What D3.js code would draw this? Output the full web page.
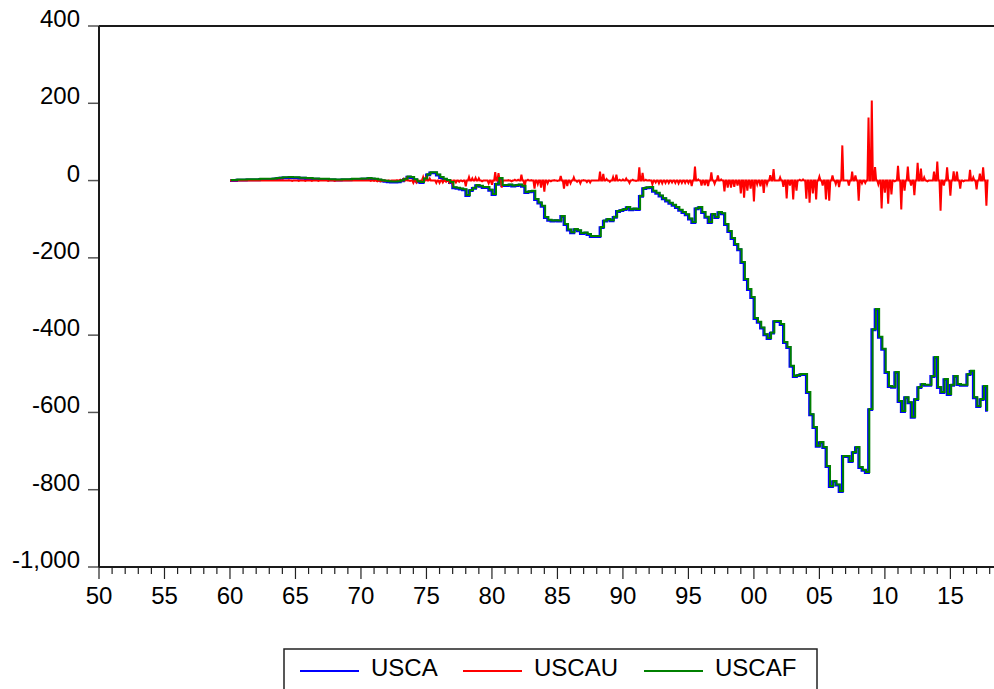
<!DOCTYPE html>
<html><head><meta charset="utf-8">
<script src="https://cdn.jsdelivr.net/npm/d3@7"></script>
<style>body{margin:0;background:#fff;} svg{display:block;} text{font-family:"Liberation Sans",Arial,sans-serif;}</style>
</head><body>
<svg id="chart" width="994" height="689"></svg>
<script>
const startYear = 1960;
const yTicks = [-1000, -800, -600, -400, -200, 0, 200, 400];
const xMajorTicks = [1950, 1955, 1960, 1965, 1970, 1975, 1980, 1985, 1990, 1995, 2000, 2005, 2010, 2015];
const seriesNames = ["USCA", "USCAU", "USCAF"];
const seriesColors = ["#0000ff", "#ff0000", "#008000"];

// quarterly values, 1960Q1 - 2017Q4
const usca = [
0,0,1,1, 1,2,2,2, 2,3,3,3, 3,4,5,6, 7,7,8,7, 7,6,6,5, 5,4,4,3, 3,3,2,2, 1,1,2,2, 2,3,3,3,
4,4,5,4, 3,1,-1,-2, -3,-4,-4,-3, -1,3,9,8, 2,-3,-5,4, 15,20,20,14, 8,3,0,-5, -19,-20,-22,-24, -39,-26,-20,-13, -15,-18,-18,-25,
-36,-10,5,-13, -13,-12,-14,-13, -12,-15,-31,-29, -28,-49,-58,-67, -96,-103,-105,-104, -105,-93,-114,-128, -135,-127,-130,-137, -136,-140,-145,-145, -145,-122,-105,-101, -104,-95,-80,-78,
-75,-70,-76,-74, -75,-41,-21,-19, -18,-28,-33,-40, -47,-53,-59,-64, -70,-77,-83,-89, -100,-109,-73,-70, -83,-95,-109,-88, -96,-83,-86,-114, -132,-150,-166,-179, -212,-256,-282,-303,
-357,-367,-382,-399, -409,-395,-365,-365, -373,-419,-432,-481, -507,-505,-502,-502, -549,-606,-639,-688, -678,-691,-740,-792, -779,-788,-805,-714, -714,-727,-704,-691, -743,-750,-756,-593, -386,-334,-406,-437,
-497,-533,-535,-497, -572,-598,-562,-575, -613,-567,-536,-528, -530,-530,-507,-458, -536,-549,-515,-554, -530,-507,-528,-530, -530,-502,-494,-562, -585,-567,-533,-598
];
// quarterly spikes of the unexpected component (zero between spikes)
const uscau = [
0,0,1,0, 0,1,0,0, 0,1,0,0, 0,1,1,1, 1,0,1,-1, 0,-1,0,-1, 0,-1,0,-1, 0,0,-1,0, -1,0,1,0, 0,1,0,0,
1,0,1,-1, -1,-2,-2,-1, -1,-1,0,1, 2,4,6,-1, -6,-5,-2,9, 11,5,0,-6, -6,-5,-3,-5, -9,-5,-3,-2, -15,9,6,7, 6,-2,0,-7,
-11,22,19,-18, 0,1,-2,2, 2,15,-16,2, 1,-21,-9,-18, -29,-7,-2,1, -1,12,-21,-14, -7,8,-3,-7, 1,-4,-5,0, 0,23,17,4, -3,9,15,2,
3,5,-6,2, -1,34,20,2, 1,-10,-5,-7, -7,-6,-6,-5, -6,-7,-6,-6, -6,-14,36,3, -13,-12,-14,21, -8,13,3,-28, -18,-18,-16,-13, -33,-44,-26,-21,
-54,-10,-15,-32, -10,14,30,0, 8,-16,-46,-13, -49,-26,2,3, -47,-57,-33,-49, 10,-13,-49,-52, 13,-9,-17,91, 0,-13,23,13, -52,-7,-6,163, 207,35,-10,-72,
-31,-60,-36,-2, 38,-75,-26,36, -13,-38,46,31, 8,-2,0,23, 49,-78,-13,34, -39,24,23,-21, -2,0,28,8, -23,18,34,-65
];
const uscaf = usca.slice();

const svg = d3.select("#chart");
const mLeft = 99, mRight = 994, mTop = 26, mBottom = 567;
const x = d3.scaleLinear().domain([1950, 2018.33]).range([mLeft, mRight]);
const y = d3.scaleLinear().domain([-1000, 400]).range([mBottom, mTop]);

const FONT = 24;

// y axis ticks and labels
const yAxis = svg.append("g");
yAxis.selectAll("line").data(yTicks).join("line")
  .attr("x1", mLeft - 11).attr("x2", mLeft).attr("y1", d => y(d)).attr("y2", d => y(d))
  .attr("stroke", "#555").attr("stroke-width", 1.5);
yAxis.selectAll("text").data(yTicks).join("text")
  .attr("x", 80).attr("y", d => y(d) + 1).attr("text-anchor", "end")
  .attr("font-size", FONT).attr("fill", "#000")
  .text(d => d3.format(",")(d).replace("\u2212", "-"));

// x axis ticks
const years = d3.range(1950, 2019);
svg.append("g").selectAll("line").data(years).join("line")
  .attr("x1", d => x(d)).attr("x2", d => x(d))
  .attr("y1", mBottom).attr("y2", d => mBottom + (d % 5 === 0 ? 12 : 7))
  .attr("stroke", "#222").attr("stroke-width", 1.2);
svg.append("g").selectAll("text").data(xMajorTicks).join("text")
  .attr("x", d => x(d)).attr("y", 604).attr("text-anchor", "middle")
  .attr("font-size", FONT).attr("fill", "#000")
  .text(d => String(d % 100).padStart(2, "0"));

// frame lines
svg.append("line").attr("x1", mLeft).attr("x2", mRight).attr("y1", mTop).attr("y2", mTop).attr("stroke", "#1a1a1a").attr("stroke-width", 2);
svg.append("line").attr("x1", mLeft).attr("x2", mLeft).attr("y1", mTop).attr("y2", mBottom).attr("stroke", "#1a1a1a").attr("stroke-width", 2);
svg.append("line").attr("x1", mLeft).attr("x2", mRight).attr("y1", mBottom).attr("y2", mBottom).attr("stroke", "#1a1a1a").attr("stroke-width", 2);

// series
const tq = i => startYear + i / 4;
const stepLine = d3.line().curve(d3.curveStepAfter).x((d, i) => x(tq(i))).y(d => y(d));
// spike series: each quarterly value shown as a one-month spike, zero otherwise
const spikePts = [];
uscau.forEach((v, i) => {
  spikePts.push({t: tq(i), v: v});
  spikePts.push({t: tq(i) + 1 / 12, v: 0});
  spikePts.push({t: tq(i) + 2 / 12, v: 0});
});
const spikeLine = d3.line().x(d => x(d.t)).y(d => y(d.v));

svg.append("path").datum(usca).attr("d", stepLine)
  .attr("fill", "none").attr("stroke", seriesColors[0]).attr("stroke-width", 2.8);
svg.append("path").datum(spikePts).attr("d", spikeLine)
  .attr("fill", "none").attr("stroke", seriesColors[1]).attr("stroke-width", 2);
svg.append("path").datum(uscaf).attr("d", stepLine)
  .attr("fill", "none").attr("stroke", seriesColors[2]).attr("stroke-width", 2)
  .attr("transform", "translate(0.8,-0.6)");

// legend
const lg = svg.append("g");
lg.append("rect").attr("x", 284).attr("y", 649).attr("width", 533).attr("height", 60)
  .attr("fill", "#fff").attr("stroke", "#222").attr("stroke-width", 1.5);
const lineStarts = [300, 463, 644];
const textStarts = [371, 534, 715];
seriesNames.forEach((n, k) => {
  lg.append("line").attr("x1", lineStarts[k]).attr("x2", lineStarts[k] + 59)
    .attr("y1", 671).attr("y2", 671).attr("stroke", seriesColors[k]).attr("stroke-width", 2);
  lg.append("text").attr("x", textStarts[k]).attr("y", 676).attr("font-size", FONT).attr("fill", "#000").text(n);
});
</script>
</body></html>
